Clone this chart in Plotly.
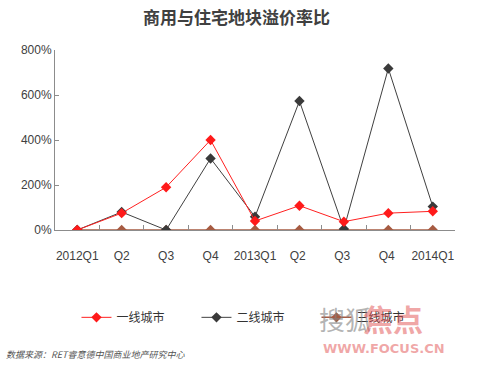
import plotly.graph_objects as go

categories = ["2012Q1", "Q2", "Q3", "Q4", "2013Q1", "Q2 ", "Q3 ", "Q4 ", "2014Q1"]
tier1 = [0, 75, 190, 400, 40, 108, 37, 75, 83]
tier2 = [0, 80, 0, 318, 59, 573, 5, 718, 104]
tier3 = [0, 0, 0, 0, 0, 0, 0, 0, 0]
y_ticks = [0, 200, 400, 600, 800]
y_tick_labels = ["0%", "200%", "400%", "600%", "800%"]

font_cjk = "Noto Sans CJK SC"

fig = go.Figure()
fig.add_trace(go.Scatter(x=categories, y=tier3, name="三线城市", mode="lines+markers",
                         line=dict(color="#A65B42", width=1.5),
                         marker=dict(symbol="diamond", size=8, color="#A65B42")))
fig.add_trace(go.Scatter(x=categories, y=tier2, name="二线城市", mode="lines+markers",
                         line=dict(color="#404040", width=1),
                         marker=dict(symbol="diamond", size=8, color="#3A3A3A")))
fig.add_trace(go.Scatter(x=categories, y=tier1, name="一线城市", mode="lines+markers",
                         line=dict(color="#FF2020", width=1),
                         marker=dict(symbol="diamond", size=8, color="#FF1A1A")))

fig.update_layout(
    width=478, height=369,
    margin=dict(l=55, r=23, t=50, b=139, autoexpand=False),
    paper_bgcolor="white", plot_bgcolor="white",
    title=dict(text="<b>商用与住宅地块溢价率比</b>", x=0.495, xanchor="center",
               y=0.952, yanchor="middle",
               font=dict(family=font_cjk, size=17, color="#404040")),
    showlegend=True,
    legend=dict(orientation="h", xref="container", yref="container",
                x=0.16, y=0.14, xanchor="left", yanchor="middle",
                traceorder="reversed", font=dict(family=font_cjk, size=12, color="#333333"),
                itemwidth=30, entrywidth=75, entrywidthmode="pixels",
                bgcolor="rgba(0,0,0,0)"),
    xaxis=dict(type="category", range=[-0.5, 8.5], showgrid=False, zeroline=False,
               showline=True, linecolor="#8C8C8C", linewidth=1,
               ticks="inside", ticklen=5, tickcolor="#8C8C8C", tickson="boundaries",
               tickangle=0, ticklabelstandoff=15,
               tickfont=dict(family="Liberation Sans", size=12, color="#404040")),
    yaxis=dict(tickmode="array", tickvals=y_ticks, ticktext=y_tick_labels,
               range=[0, 800], showgrid=False, zeroline=False,
               showline=True, linecolor="#8C8C8C", linewidth=1,
               ticks="inside", ticklen=4, tickcolor="#8C8C8C",
               tickfont=dict(family="Liberation Sans", size=12, color="#404040")),
)

fig.add_annotation(text="<i>数据来源：RET睿意德中国商业地产研究中心</i>", xref="paper", yref="paper",
                   x=-0.128, y=-0.69, xanchor="left", yanchor="middle", showarrow=False,
                   font=dict(family=font_cjk, size=9, color="#555555"))
fig.add_annotation(text="搜狐", xref="paper", yref="paper", x=0.655, y=-0.49,
                   xanchor="left", yanchor="middle", showarrow=False,
                   font=dict(family=font_cjk, size=26, color="rgba(130,130,130,0.6)"))
fig.add_annotation(text="<b>焦点</b>", xref="paper", yref="paper", x=0.765, y=-0.49,
                   xanchor="left", yanchor="middle", showarrow=False,
                   font=dict(family=font_cjk, size=30, color="rgba(225,80,80,0.5)"))
fig.add_annotation(text="<b>WWW.FOCUS.CN</b>", xref="paper", yref="paper", x=0.665, y=-0.66,
                   xanchor="left", yanchor="middle", showarrow=False,
                   font=dict(family="DejaVu Sans", size=13, color="rgba(225,80,80,0.5)"))

fig.write_html("out.html", config={"displayModeBar": False},
               post_script="document.body.style.margin='0';")
